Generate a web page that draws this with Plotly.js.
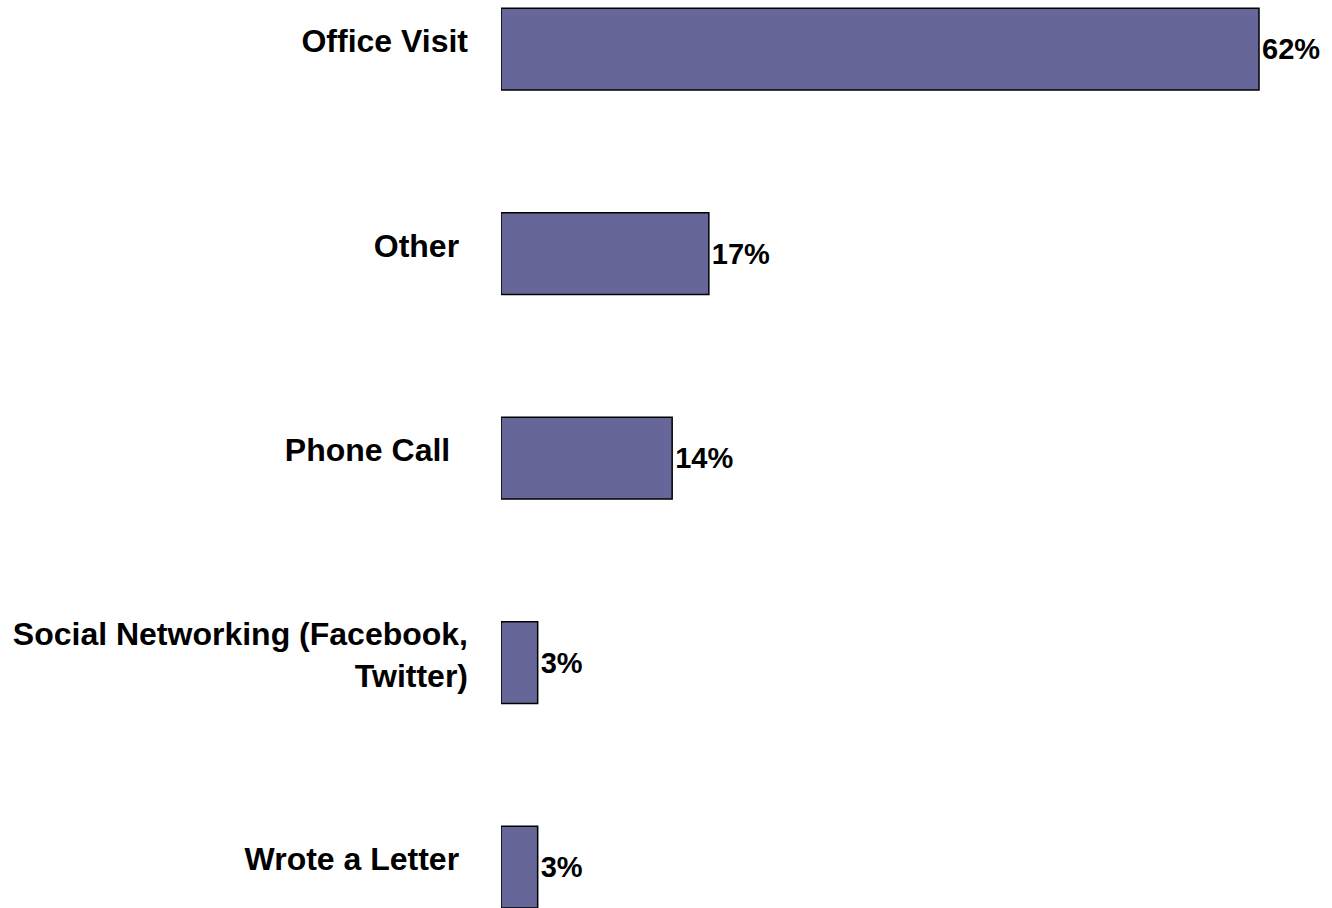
<!DOCTYPE html>
<html>
<head>
<meta charset="utf-8">
<script src="https://cdn.plot.ly/plotly-3.0.1.min.js"></script>
<style>
  html, body { margin: 0; padding: 0; background: #ffffff; }
  #chart { width: 1332px; height: 908px; }
</style>
</head>
<body>
<div id="chart"></div>
<script>
// Data
const categories = ["Office Visit", "Other", "Phone Call", "Social Networking (Facebook,<br>Twitter)", "Wrote a Letter"];
const values = [62, 17, 14, 3, 3];
const valueLabels = ["62%", "17%", "14%", "3%", "3%"];

// trailing invisible padding so labels end where the reference ends them
const padRight = [0, 1, 2, 0, 1];
const NBSP = "\u00a0";
const tickText = categories.map((c, i) => c + NBSP.repeat(padRight[i]));

const FONT = 'Arial, Liberation Sans, sans-serif';

const trace = {
  type: 'bar',
  orientation: 'h',
  y: categories,
  x: values,
  text: valueLabels,
  textposition: 'outside',
  cliponaxis: false,
  constraintext: 'none',
  textfont: { family: FONT, size: 29, color: '#000000', weight: 'bold' },
  width: 0.4,
  marker: { color: '#666699', line: { color: '#000000', width: 1.5 } },
  hoverinfo: 'skip'
};

const layout = {
  width: 1332,
  height: 908,
  margin: { l: 501, r: 0, t: 0, b: 0, pad: 0 },
  paper_bgcolor: '#ffffff',
  plot_bgcolor: '#ffffff',
  showlegend: false,
  font: { family: FONT, color: '#000000' },
  xaxis: {
    range: [0, 831 / ((1259 - 501) / 62)],
    visible: false,
    showgrid: false,
    zeroline: false,
    fixedrange: true
  },
  yaxis: {
    type: 'category',
    categoryorder: 'array',
    categoryarray: categories,
    tickvals: categories,
    ticktext: tickText,
    range: [4.2, -0.24],
    showgrid: false,
    zeroline: false,
    showline: false,
    ticks: '',
    ticklabelstandoff: 32,
    ticklabelshift: 8,
    tickfont: { family: FONT, size: 32, color: '#000000', weight: 'bold' },
    fixedrange: true
  }
};

Plotly.newPlot('chart', [trace], layout, { displayModeBar: false, staticPlot: true });
</script>
</body>
</html>
